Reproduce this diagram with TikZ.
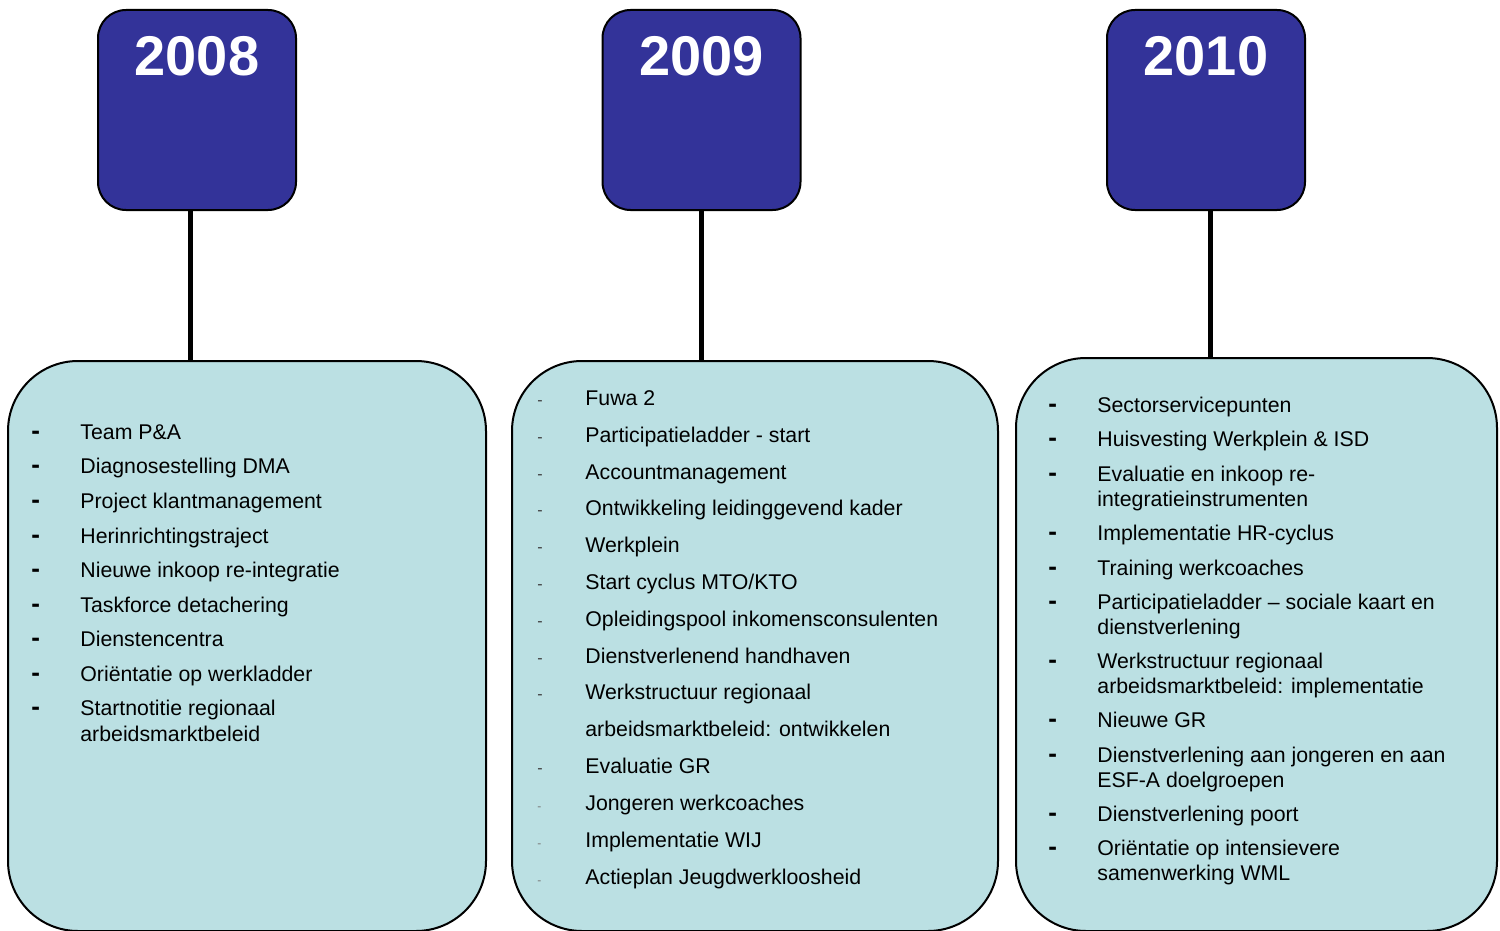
\documentclass[tikz,border=0pt]{standalone}
\usepackage{fontspec}
\setmainfont{Liberation Sans}
\definecolor{yearblue}{RGB}{51,51,153}
\definecolor{boxteal}{RGB}{187,224,227}
\definecolor{dashgray}{RGB}{60,60,60}
\definecolor{dashlight}{RGB}{120,120,120}
\tikzset{
  yearbox/.style={draw=black, line width=1pt, fill=yearblue, rounded corners=14pt,
    minimum width=99pt, minimum height=100pt, inner sep=0pt},
  yeartext/.style={text=white, font=\fontsize{28}{30}\selectfont\bfseries, inner sep=0pt},
  lowbox/.style={draw=black, line width=1pt, fill=boxteal, rounded corners=35pt, inner sep=0pt},
  conn/.style={line width=2.5pt, black},
  item/.style={anchor=base west, inner sep=0pt, font=\fontsize{10.65}{13}\selectfont, text=black},
  bigdash/.style={anchor=base west, inner sep=0pt, font=\fontsize{13}{14}\selectfont\bfseries, text=black},
  smalldash/.style={anchor=base west, inner sep=0pt, font=\fontsize{8}{9}\selectfont, text=dashgray},
  tinydash/.style={anchor=base west, inner sep=0pt, font=\fontsize{6}{7}\selectfont, text=dashlight},
}
\begin{document}
\begin{tikzpicture}[x=0.5pt,y=-0.5pt]
\useasboundingbox (0,0) rectangle (1500,931);
% year boxes
\node[yearbox] (y1) at (197,110) {};
\node[yearbox] (y2) at (701.5,110) {};
\node[yearbox] (y3) at (1206,110) {};
\node[yeartext] (t1) at (197,56) {2008};
\node[yeartext] (t2) at (701.5,56) {2009};
\node[yeartext] (t3) at (1206,56) {2010};
% content boxes
\node[lowbox, minimum width=239pt, minimum height=285pt] (b1) at (247,646) {};
\node[lowbox, minimum width=243pt, minimum height=285pt] (b2) at (755,646) {};
\node[lowbox, minimum width=240.5pt, minimum height=286.5pt] (b3) at (1256.5,644.5) {};
% connectors
\coordinate (c1) at (190,0);
\coordinate (c2) at (701,0);
\coordinate (c3) at (1210,0);
\draw[conn] (y1.south -| c1) -- (b1.north -| c1);
\draw[conn] (y2.south -| c2) -- (b2.north -| c2);
\draw[conn] (y3.south -| c3) -- (b3.north -| c3);
% column 1
\foreach \i/\yy/\txt in {1/439/Team P\&A, 2/473/Diagnosestelling DMA, 3/508/Project klantmanagement,
  4/543/Herinrichtingstraject, 5/577/Nieuwe inkoop re-integratie, 6/612/Taskforce detachering,
  7/646/Dienstencentra, 8/681/Oriëntatie op werkladder, 9/715/Startnotitie regionaal}{
  \node[bigdash] (d1-\i) at (31,\yy) {-};
  \node[item] (a1-\i) at (80,\yy) {\txt};
}
\node[item] (a1-9b) at (80,741) {arbeidsmarktbeleid};
% column 2
\foreach \i/\yy/\txt in {1/405/Fuwa 2, 2/442/Participatieladder - start, 3/479/Accountmanagement,
  4/515/Ontwikkeling leidinggevend kader, 5/552/Werkplein, 6/589/{Start cyclus MTO/KTO},
  7/626/Opleidingspool inkomensconsulenten, 8/663/Dienstverlenend handhaven,
  9/699/Werkstructuur regionaal, 10/773/Evaluatie GR}{
  \node[smalldash] (d2-\i) at (537,\yy) {-};
  \node[item] (a2-\i) at (585,\yy) {\txt};
}
\node[item] (a2-9b) at (585,736) {arbeidsmarktbeleid: ontwikkelen};
\foreach \i/\yy/\txt in {11/810/Jongeren werkcoaches, 12/847/Implementatie WIJ, 13/884/Actieplan Jeugdwerkloosheid}{
  \node[tinydash] (d2-\i) at (537,\yy) {-};
  \node[item] (a2-\i) at (585,\yy) {\txt};
}
% column 3
\foreach \i/\yy/\txt in {1/412/Sectorservicepunten, 2/446/Huisvesting Werkplein \& ISD,
  3/481/Evaluatie en inkoop re-, 4/540/Implementatie HR-cyclus, 5/575/Training werkcoaches,
  6/609/Participatieladder – sociale kaart en, 7/668/Werkstructuur regionaal, 8/727/Nieuwe GR,
  9/762/Dienstverlening aan jongeren en aan, 10/821/Dienstverlening poort,
  11/855/Oriëntatie op intensievere}{
  \node[bigdash] (d3-\i) at (1048,\yy) {-};
  \node[item] (a3-\i) at (1097,\yy) {\txt};
}
\node[item] (a3-3b) at (1097,506) {integratieinstrumenten};
\node[item] (a3-6b) at (1097,634) {dienstverlening};
\node[item] (a3-7b) at (1097,693) {arbeidsmarktbeleid: implementatie};
\node[item] (a3-9b) at (1097,787) {ESF-A doelgroepen};
\node[item] (a3-11b) at (1097,880) {samenwerking WML};
\end{tikzpicture}
\end{document}
